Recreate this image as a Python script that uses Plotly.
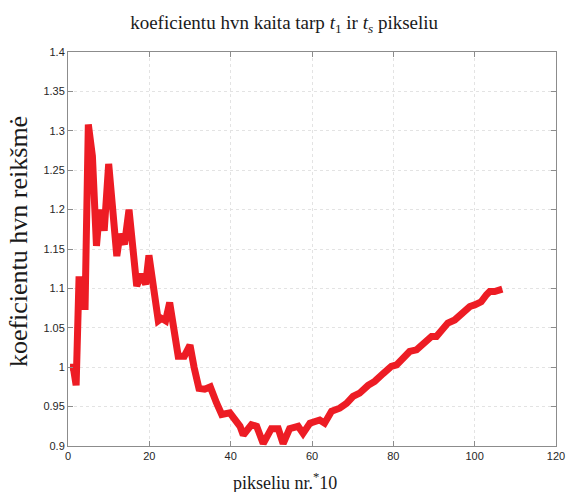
import plotly.graph_objects as go

# pixel index (/10) and the hvn coefficient value at that position
pixel_nr = [
    0.5, 1.3, 2.0, 2.7, 3.3, 3.6, 4.2, 5.0, 6.0, 7.0, 7.7, 8.4, 8.9, 10.0,
    11.0, 12.0, 12.8, 13.9, 15.0, 16.9, 18.0, 19.1, 19.9, 21.0, 22.2, 23.0,
    24.0, 25.0, 26.0, 27.1, 28.6, 30.0, 31.0, 32.2, 33.6, 35.0, 36.5, 37.8,
    39.8, 41.0, 42.3, 43.1, 45.1, 46.4, 48.0, 50.0, 51.7, 52.9, 54.5, 56.6,
    57.8, 59.5, 61.9, 63.1, 64.8, 66.8, 68.5, 70.1, 71.7, 73.8, 75.4, 77.5,
    79.5, 80.8, 82.4, 84.0, 85.7, 88.1, 89.4, 90.6, 91.8, 93.4, 95.1, 96.3,
    98.8, 100.0, 101.6, 102.9, 103.7, 104.9, 106.8,
]
hvn_value = [
    1.000, 1.000, 0.977, 1.111, 1.111, 1.077, 1.077, 1.308, 1.268, 1.154,
    1.196, 1.196, 1.173, 1.258, 1.200, 1.141, 1.169, 1.156, 1.200, 1.103,
    1.118, 1.105, 1.142, 1.100, 1.059, 1.062, 1.059, 1.082, 1.050, 1.014,
    1.014, 1.028, 1.000, 0.973, 0.972, 0.975, 0.955, 0.940, 0.942, 0.935,
    0.925, 0.914, 0.927, 0.925, 0.903, 0.922, 0.922, 0.903, 0.922, 0.925,
    0.916, 0.929, 0.933, 0.929, 0.944, 0.948, 0.954, 0.963, 0.967, 0.977,
    0.982, 0.992, 1.001, 1.003, 1.013, 1.020, 1.022, 1.032, 1.039, 1.039,
    1.045, 1.056, 1.060, 1.066, 1.077, 1.079, 1.083, 1.092, 1.096, 1.096,
    1.099,
]

x_ticks = [0, 20, 40, 60, 80, 100, 120]
y_ticks = [0.9, 0.95, 1.0, 1.05, 1.1, 1.15, 1.2, 1.25, 1.3, 1.35, 1.4]

serif = "Liberation Serif, DejaVu Serif, serif"
sans = "Liberation Sans, Arial, sans-serif"

fig = go.Figure()
fig.add_trace(go.Scatter(
    x=pixel_nr, y=hvn_value, mode="lines",
    line=dict(color="rgb(237,28,36)", width=7),
    hoverinfo="skip", showlegend=False,
))

axis_common = dict(
    showline=True, linecolor="#8c8c8c", linewidth=1, mirror="ticks",
    ticks="inside", ticklen=5, tickcolor="#8c8c8c",
    showgrid=True, gridcolor="#e3e3e3", griddash="dot", gridwidth=1,
    zeroline=False, automargin=False,
    tickfont=dict(family=sans, size=11, color="#262626"),
)

fig.update_xaxes(range=[0, 120], tickvals=x_ticks, **axis_common)
fig.update_yaxes(range=[0.9, 1.4], tickvals=y_ticks,
                 ticktext=[f"{v:g}" for v in y_ticks], **axis_common)

fig.update_layout(
    width=566, height=492,
    margin=dict(l=68, r=10, t=52, b=46),
    paper_bgcolor="white", plot_bgcolor="white",
    title=dict(
        text="koeficientu hvn kaita tarp <i>t</i><sub>1</sub> ir <i>t<sub>s</sub></i> pikseliu",
        x=0.502, xanchor="center", y=0.955, yanchor="middle",
        font=dict(family=serif, size=19, color="#1a1a1a"),
    ),
    annotations=[
        dict(text="pikseliu nr.<sup>*</sup>10", xref="paper", yref="paper",
             x=0.445, y=-0.091, xanchor="center", yanchor="middle", showarrow=False,
             font=dict(family=serif, size=18, color="#1a1a1a")),
        dict(text="koeficientu hvn reikšmė", xref="paper", yref="paper",
             x=-0.1, y=0.518, xanchor="center", yanchor="middle", textangle=-90,
             showarrow=False, font=dict(family=serif, size=26, color="#1a1a1a")),
    ],
)

fig.write_html("out.html")
